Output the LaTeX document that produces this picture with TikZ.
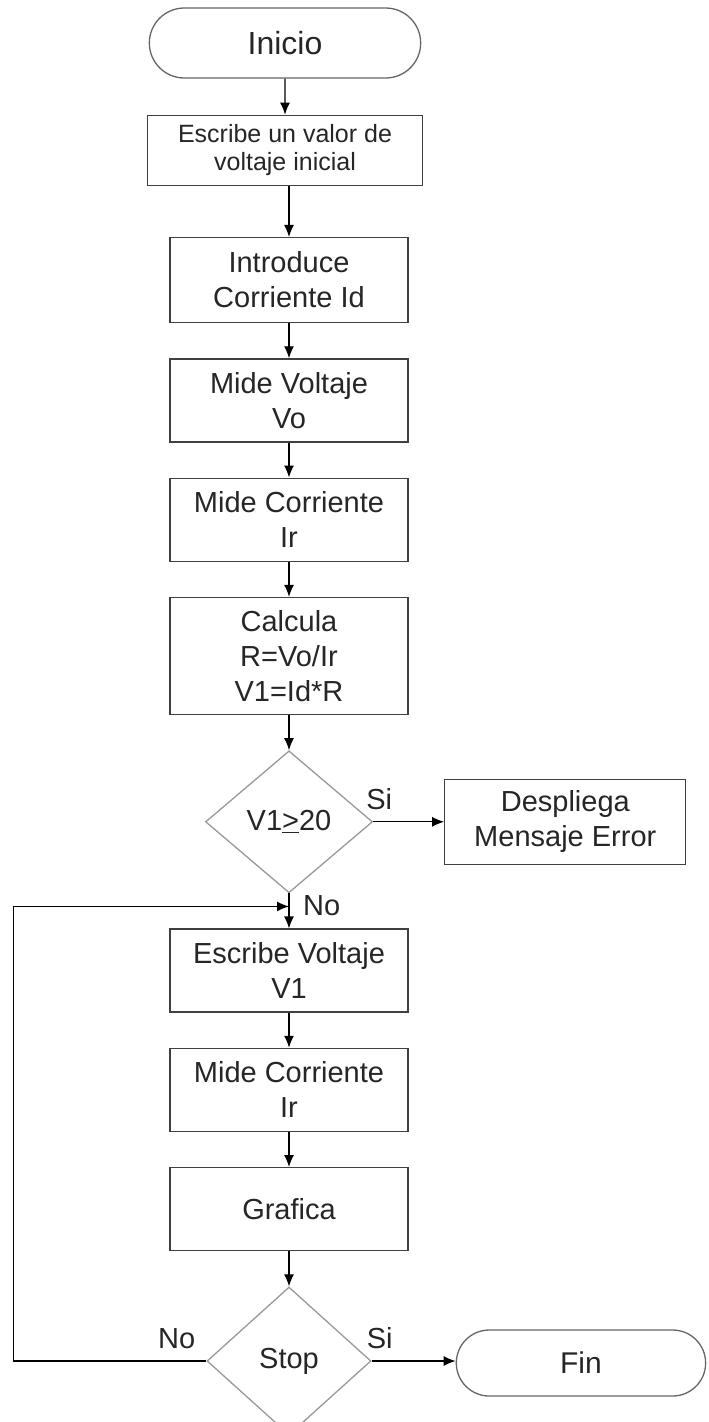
\documentclass[tikz,border=0pt]{standalone}
\usepackage{fontspec}
\setmainfont{Liberation Sans}
\usetikzlibrary{arrows.meta,positioning,shapes.geometric,shapes.misc}

\begin{document}
\begin{tikzpicture}[x=1pt,y=-1pt,node distance=35pt,
proc/.style={draw=black!75,line width=1.3pt,fill=white,align=center,minimum width=238pt,minimum height=83pt,inner sep=2pt,text=black!85,font=\fontsize{29}{35}\selectfont},
term/.style={rounded rectangle,draw=black!60,line width=1.3pt,fill=white,text=black!85,font=\fontsize{30}{36}\selectfont},
dec/.style={diamond,draw=black!40,line width=1.3pt,fill=white,inner sep=0pt,minimum width=167pt,minimum height=142pt,text=black!85,font=\fontsize{29}{35}\selectfont},
lbl/.style={inner sep=0pt,text=black!85,font=\fontsize{29}{35}\selectfont},
flow/.style={line width=1.3pt,-{Latex[length=12pt,width=10pt]}}]
\useasboundingbox (0,0) rectangle (709,1422);
\node[term,minimum width=278pt,minimum height=70pt,font=\fontsize{32}{38}\selectfont](inicio) at (285,43){Inicio};
\node[proc,below=36pt of inicio,minimum width=275pt,minimum height=70pt,font=\fontsize{25}{28}\selectfont](escini){Escribe un valor de\\voltaje inicial};
\node[proc,below=51pt of escini,xshift=4pt,minimum height=85pt](intro){Introduce\\Corriente Id};
\node[proc,below=of intro](midev){Mide Voltaje\\Vo};
\node[proc,below=of midev](midei){Mide Corriente\\Ir};
\node[proc,below=of midei,minimum height=117pt](calc){Calcula\\R=Vo/Ir\\V1=Id*R};
\node[dec,below=of calc](cmp){V1\underline{>}20};
\node[proc,right=71pt of cmp,minimum width=241pt,minimum height=85pt](error){Despliega\\Mensaje Error};
\node[proc,below=of cmp](escv){Escribe Voltaje\\V1};
\node[proc,below=of escv](midei2){Mide Corriente\\Ir};
\node[proc,below=of midei2](graf){Grafica};
\node[dec,below=of graf,minimum width=164pt,minimum height=148pt](stop){Stop};
\node[term,right=84pt of stop,minimum width=256pt,minimum height=66pt,yshift=-2pt](fin){Fin};
\coordinate[below=13pt of cmp.south](join);
% flow
\draw[flow](inicio)--(escini);\draw[flow](escini.south -| intro)--(intro);
\draw[flow](intro)--(midev);\draw[flow](midev)--(midei);\draw[flow](midei)--(calc);
\draw[flow](calc)--(cmp);\draw[flow](cmp)--(error);\draw[flow](cmp)--(escv);
\draw[flow](escv)--(midei2);\draw[flow](midei2)--(graf);\draw[flow](graf)--(stop);
\draw[flow](stop.east)--(stop.east -| fin.west);
\draw[flow](stop.west)--++(-193pt,0pt)|-(join);
% labels
\node[lbl,above right=12pt and -7pt of cmp.east]{Si};
\node[lbl,below right=2pt and 14pt of cmp.south]{No};
\node[lbl,above left=12pt and 11pt of stop.west]{No};
\node[lbl,above right=12pt and -5pt of stop.east]{Si};
\end{tikzpicture}
\end{document}
